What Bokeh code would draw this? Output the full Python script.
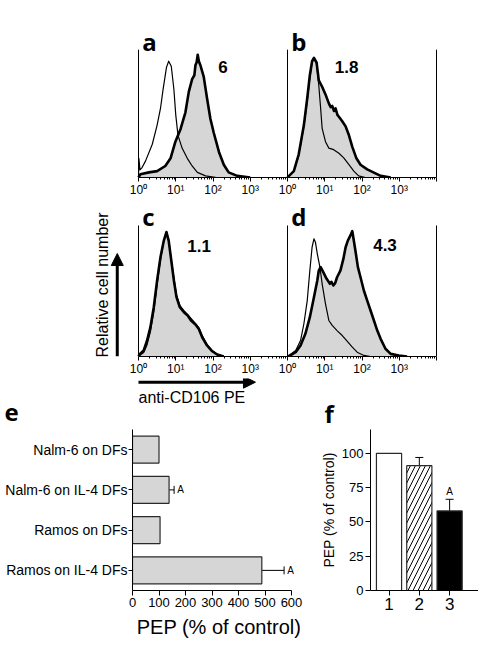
import math
from bokeh.plotting import figure
from bokeh.layouts import column, row
from bokeh.models import (Range1d, FixedTicker, Arrow, NormalHead,
                          Whisker, TeeHead, ColumnDataSource)
from bokeh.core.properties import value
from bokeh.embed import file_html
from bokeh.resources import INLINE

# ---------------- data ----------------
# histogram curves: x in decades (log10 fluorescence), y relative cell number (0..1)
a_open_x = [0.0, 0.01, 0.04, 0.1, 0.19, 0.37, 0.5, 0.59, 0.66, 0.75, 0.81, 0.88, 0.95, 1.0, 1.06, 1.17, 1.31, 1.44, 1.58, 1.8, 2.1]
a_open_y = [0.0, 0.15, 0.06, 0.08, 0.13, 0.26, 0.41, 0.54, 0.69, 0.86, 0.91, 0.87, 0.69, 0.49, 0.33, 0.23, 0.15, 0.09, 0.04, 0.013, 0.0]
a_fill_x = [0.0, 0.05, 0.28, 0.5, 0.72, 0.86, 0.99, 1.13, 1.26, 1.35, 1.44, 1.5, 1.53, 1.56, 1.59, 1.62, 1.66, 1.7, 1.75, 1.84, 1.93, 2.02, 2.16, 2.29, 2.42, 2.65, 3.0]
a_fill_y = [0.0, 0.025, 0.04, 0.05, 0.09, 0.15, 0.28, 0.38, 0.51, 0.67, 0.77, 0.8, 0.88, 0.9, 0.96, 0.91, 0.88, 0.84, 0.79, 0.62, 0.46, 0.35, 0.2, 0.1, 0.04, 0.013, 0.0]

b_open_x = [0.0, 0.04, 0.17, 0.30, 0.44, 0.53, 0.60, 0.66, 0.71, 0.78, 0.84, 0.89, 0.93, 1.02, 1.11, 1.24, 1.38, 1.51, 1.65, 1.78, 1.91, 2.09]
b_open_y = [0.0, 0.013, 0.05, 0.17, 0.40, 0.60, 0.78, 0.90, 0.93, 0.89, 0.72, 0.54, 0.385, 0.28, 0.23, 0.218, 0.19, 0.154, 0.10, 0.05, 0.013, 0.0]
b_fill_x = [0.0, 0.04, 0.17, 0.30, 0.44, 0.53, 0.60, 0.66, 0.71, 0.78, 0.84, 0.93, 1.02, 1.11, 1.16, 1.20, 1.25, 1.29, 1.34, 1.38, 1.47, 1.56, 1.65, 1.74, 1.85, 1.96, 2.14, 2.32, 2.50, 2.77]
b_fill_y = [0.0, 0.013, 0.05, 0.18, 0.41, 0.62, 0.80, 0.91, 0.935, 0.90, 0.76, 0.71, 0.65, 0.58, 0.55, 0.56, 0.52, 0.54, 0.49, 0.475, 0.44, 0.40, 0.33, 0.24, 0.15, 0.10, 0.064, 0.038, 0.013, 0.0]

c_open_x = [0.0, 0.04, 0.14, 0.23, 0.32, 0.41, 0.50, 0.59, 0.68, 0.75, 0.81, 0.88, 0.95, 1.02, 1.11, 1.22, 1.32, 1.41, 1.53, 1.62, 1.71, 1.84, 1.98, 2.11, 2.3]
c_open_y = [0.0, 0.01, 0.03, 0.09, 0.19, 0.34, 0.55, 0.74, 0.88, 0.95, 0.89, 0.74, 0.6, 0.47, 0.39, 0.35, 0.32, 0.29, 0.25, 0.22, 0.16, 0.09, 0.045, 0.018, 0.0]
c_fill_x = [0.0, 0.04, 0.14, 0.23, 0.32, 0.41, 0.50, 0.59, 0.68, 0.75, 0.81, 0.88, 0.95, 1.02, 1.11, 1.22, 1.32, 1.41, 1.53, 1.62, 1.71, 1.84, 1.98, 2.11, 2.29]
c_fill_y = [0.0, 0.02, 0.046, 0.122, 0.224, 0.376, 0.58, 0.758, 0.885, 0.95, 0.885, 0.733, 0.58, 0.453, 0.376, 0.338, 0.313, 0.275, 0.244, 0.21, 0.147, 0.084, 0.04, 0.015, 0.0]

d_open_x = [0.0, 0.04, 0.22, 0.35, 0.44, 0.53, 0.60, 0.66, 0.71, 0.75, 0.80, 0.87, 0.93, 1.02, 1.11, 1.20, 1.33, 1.47, 1.60, 1.74, 1.87, 2.05, 2.23]
d_open_y = [0.0, 0.008, 0.046, 0.122, 0.25, 0.427, 0.656, 0.834, 0.898, 0.873, 0.784, 0.682, 0.555, 0.402, 0.275, 0.237, 0.198, 0.16, 0.117, 0.071, 0.033, 0.008, 0.0]
d_fill_x = [0.0, 0.04, 0.22, 0.35, 0.48, 0.60, 0.71, 0.80, 0.84, 0.89, 0.96, 1.05, 1.14, 1.18, 1.23, 1.28, 1.33, 1.42, 1.50, 1.56, 1.62, 1.69, 1.74, 1.78, 1.83, 1.89, 1.96, 2.05, 2.14, 2.23, 2.32, 2.41, 2.50, 2.63, 2.77, 2.99, 3.21]
d_fill_y = [0.0, 0.003, 0.033, 0.084, 0.173, 0.30, 0.453, 0.58, 0.656, 0.682, 0.644, 0.593, 0.555, 0.57, 0.542, 0.56, 0.605, 0.656, 0.745, 0.834, 0.885, 0.924, 0.957, 0.885, 0.796, 0.682, 0.605, 0.504, 0.427, 0.351, 0.275, 0.198, 0.135, 0.059, 0.02, 0.008, 0.0]

panel_letters = ["a", "b", "c", "d", "e", "f"]
panel_ratios = ["6", "1.8", "1.1", "4.3"]
decade_labels = ["10\u2070", "10\u00b9", "10\u00b2", "10\u00b3"]

# panel e
e_categories = ["Nalm-6 on DFs", "Nalm-6 on IL-4 DFs", "Ramos on DFs", "Ramos on IL-4 DFs"]
e_values = [100, 138, 104, 488]
e_errors = [0, 19, 0, 84]
e_marks = ["", "A", "", "A"]
e_ticks = [0, 100, 200, 300, 400, 500, 600]

# panel f
f_categories = ["1", "2", "3"]
f_values = [100, 91, 58]
f_errors = [0, 6, 8.5]
f_marks = ["", "", "A"]
f_ticks = [0, 25, 50, 75, 100]

# ---------------- style ----------------
SANS = "Liberation Sans"
BOLD_LETTER = "Open Sans"
LETTER_SIZE = "24px"
FILL = "#d6d6d6"
DEC_PX = 37.25          # pixels per decade
LEFT_PX = 138           # frame left -> 10^0 of left panels
FULL_W = 478
X0 = -LEFT_PX / DEC_PX
X1 = (FULL_W - LEFT_PX) / DEC_PX


def style_common(p):
    p.grid.visible = False
    p.outline_line_color = None
    p.background_fill_color = "white"
    p.border_fill_color = "white"


def hist_row(height, frame_h, unit_px, bottom_border):
    p = figure(width=FULL_W, height=height,
               x_range=Range1d(X0, X1), y_range=Range1d(0, frame_h / unit_px),
               y_axis_location=None, output_backend="svg", toolbar_location=None,
               min_border_left=0, min_border_right=0, min_border_top=0,
               min_border_bottom=bottom_border)
    p.extra_x_ranges = {"b": Range1d(X0 - 4, X1 - 4)}
    style_common(p)
    ax = p.xaxis[0]
    ax.bounds = (0, 8)
    major = list(range(9))
    minor = [d + math.log10(k) for d in range(8) for k in range(2, 10)]
    ax.ticker = FixedTicker(ticks=major, minor_ticks=minor)
    overrides = {}
    for i in range(8):
        overrides[i] = decade_labels[i % 4]
    overrides[8] = ""
    ax.major_label_overrides = overrides
    ax.major_label_text_font = SANS
    ax.major_label_text_font_size = "12px"
    ax.major_label_text_color = "black"
    ax.major_label_standoff = 1
    ax.major_tick_out = 4
    ax.major_tick_in = 0
    ax.minor_tick_out = 2
    ax.minor_tick_in = 0
    ax.axis_line_color = "black"
    ax.major_tick_line_color = "black"
    ax.minor_tick_line_color = "black"
    return p


def draw_panel(p, rng, ox, oy, fx, fy, letter, letter_y, ratio, rx, ry, right_line):
    kw = {} if rng is None else {"x_range_name": rng}
    p.varea(x=fx, y1=0, y2=fy, fill_color=FILL, **kw)
    p.line(ox, oy, line_color="black", line_width=1.2, line_join="round", **kw)
    p.line(fx, fy, line_color="black", line_width=2.6, line_join="round", **kw)
    xs = [0, 4] if right_line else [0]
    p.segment(x0=xs, y0=[0] * len(xs), x1=xs, y1=[1] * len(xs),
              line_color="black", line_width=1, **kw)
    p.text(x=[0.1], y=[letter_y], text=[letter], text_font=value(BOLD_LETTER),
           text_font_style="bold", text_font_size=LETTER_SIZE,
           text_align="left", text_baseline="alphabetic", text_color="black", **kw)
    p.text(x=[rx], y=[ry], text=[ratio], text_font=value(SANS),
           text_font_style="bold", text_font_size="17px",
           text_align="left", text_baseline="alphabetic", text_color="black", **kw)


# row 1 (a, b): frame page y 0..180, 130 px per unit
h1 = hist_row(height=199, frame_h=180, unit_px=130, bottom_border=19)
draw_panel(h1, None, a_open_x, a_open_y, a_fill_x, a_fill_y, panel_letters[0], 1.063, panel_ratios[0], 2.14, 0.865, False)
draw_panel(h1, "b", b_open_x, b_open_y, b_fill_x, b_fill_y, panel_letters[1], 1.063, panel_ratios[1], 1.27, 0.865, True)

# row 2 (c, d): frame page y 199..356, 131 px per unit
U2 = 131
h2 = hist_row(height=179, frame_h=157, unit_px=U2, bottom_border=22)
draw_panel(h2, None, c_open_x, c_open_y, c_fill_x, c_fill_y, panel_letters[2], 1.067, panel_ratios[2], 1.31, 0.84, False)
draw_panel(h2, "b", d_open_x, d_open_y, d_fill_x, d_fill_y, panel_letters[3], 1.067, panel_ratios[3], 2.30, 0.85, True)

h2.text(x=[-0.97], y=[0.546], text=["Relative cell number"], angle=math.pi / 2,
        text_align="center", text_baseline="middle",
        text_font=value(SANS), text_font_size="16px", text_color="black")
h2.add_layout(Arrow(x_start=-0.57, y_start=0.0, x_end=-0.57, y_end=0.786,
                    line_width=3, line_color="black",
                    end=NormalHead(size=12, fill_color="black", line_color="black")))

# strip under row 2: x-axis arrow, its label and the letters of panels e and f
# (continues row 2's scales: page y 378..429)
h3 = figure(width=FULL_W, height=51,
            x_range=Range1d(X0, X1), y_range=Range1d(-(429 - 356) / U2, -(378 - 356) / U2),
            x_axis_location=None, y_axis_location=None,
            output_backend="svg", toolbar_location=None, min_border=0)
style_common(h3)
h3.add_layout(Arrow(x_start=0.0, y_start=-0.196, x_end=3.14, y_end=-0.196,
                    line_width=3, line_color="black",
                    end=NormalHead(size=12, fill_color="black", line_color="black")))
h3.text(x=[0.0], y=[-0.31], text=["anti-CD106 PE"], text_align="left", text_baseline="middle",
        text_font=value(SANS), text_font_size="16px", text_color="black")
h3.text(x=[-3.6, 4.99], y=[-0.4245, -0.435], text=panel_letters[4:6],
        text_font=value(BOLD_LETTER), text_font_style="bold", text_font_size=LETTER_SIZE,
        text_align="left", text_baseline="alphabetic", text_color="black")

# ---------------- panel e ----------------
E_PX = 0.265
E_FRAME_W = 173
pe = figure(width=132 + E_FRAME_W, height=221,
            x_range=Range1d(0, E_FRAME_W / E_PX), y_range=Range1d(3.5, -0.5),
            output_backend="svg", toolbar_location=None,
            min_border_left=132, min_border_right=0, min_border_top=0, min_border_bottom=60)
style_common(pe)
e_idx = list(range(len(e_categories)))
pe.hbar(y=e_idx, left=0, right=e_values, height=0.67,
        fill_color=FILL, line_color="#2a2a2a", line_width=1.2)
e_src = ColumnDataSource(dict(
    y=[i for i in e_idx if e_errors[i] > 0],
    lo=[e_values[i] for i in e_idx if e_errors[i] > 0],
    hi=[e_values[i] + e_errors[i] for i in e_idx if e_errors[i] > 0],
    mark=[e_marks[i] for i in e_idx if e_errors[i] > 0],
))
e_src.data["mx"] = [h + 12 for h in e_src.data["hi"]]
pe.add_layout(Whisker(source=e_src, base="y", lower="lo", upper="hi", dimension="width",
                      lower_head=None, line_color="black", line_width=1,
                      upper_head=TeeHead(size=8, line_color="black", line_width=1)))
pe.text(x="mx", y="y", text="mark", source=e_src, text_font=value(SANS),
        text_font_size="10px", text_align="left", text_baseline="middle", text_color="black")
xa = pe.xaxis[0]
xa.bounds = (0, 600)
xa.ticker = FixedTicker(ticks=e_ticks)
xa.axis_label = "PEP (% of control)"
xa.axis_label_text_font = SANS
xa.axis_label_text_font_style = "normal"
xa.axis_label_text_font_size = "20px"
xa.axis_label_text_color = "black"
xa.axis_label_standoff = 6
xa.major_label_text_font = SANS
xa.major_label_text_font_size = "13px"
xa.major_label_text_color = "black"
xa.major_label_standoff = 2
xa.major_tick_out = 5
xa.major_tick_in = 0
xa.minor_tick_out = 0
ya = pe.yaxis[0]
ya.ticker = FixedTicker(ticks=e_idx)
ya.major_label_overrides = {i: c for i, c in zip(e_idx, e_categories)}
ya.major_label_text_font = SANS
ya.major_label_text_font_size = "14px"
ya.major_label_text_color = "black"
ya.major_label_standoff = 1
ya.major_tick_out = 4
ya.major_tick_in = 0
ya.minor_tick_out = 0

# ---------------- panel f ----------------
F_PX = 30.3
F_UNIT = 1.38           # pixels per percent
pf = figure(width=173, height=221,
            x_range=Range1d(0.389, 0.389 + 108 / F_PX), y_range=Range1d(0, 162 / F_UNIT),
            output_backend="svg", toolbar_location=None,
            min_border_left=65, min_border_right=0, min_border_top=0, min_border_bottom=59)
style_common(pf)
f_x = [i + 1 for i in range(len(f_categories))]
f_src = ColumnDataSource(dict(
    x=f_x, top=f_values,
    fill=["white", "white", "black"],
    hatch=[" ", "/", " "],
))
pf.vbar(x="x", top="top", width=0.83, source=f_src, fill_color="fill",
        hatch_pattern="hatch", hatch_color="black", hatch_weight=1, hatch_scale=10,
        line_color="#2a2a2a", line_width=1.2)
f_err_src = ColumnDataSource(dict(
    x=[f_x[i] for i in range(3) if f_errors[i] > 0],
    lo=[f_values[i] for i in range(3) if f_errors[i] > 0],
    hi=[f_values[i] + f_errors[i] for i in range(3) if f_errors[i] > 0],
    mark=[f_marks[i] for i in range(3) if f_errors[i] > 0],
))
f_err_src.data["my"] = [h + 1.5 for h in f_err_src.data["hi"]]
pf.add_layout(Whisker(source=f_err_src, base="x", lower="lo", upper="hi", dimension="height",
                      lower_head=None, line_color="black", line_width=1,
                      upper_head=TeeHead(size=8, line_color="black", line_width=1)))
pf.text(x="x", y="my", text="mark", source=f_err_src, text_font=value(SANS),
        text_font_size="10px", text_align="center", text_baseline="bottom", text_color="black")
fx_ax = pf.xaxis[0]
fx_ax.ticker = FixedTicker(ticks=f_x)
fx_ax.major_label_overrides = {i: c for i, c in zip(f_x, f_categories)}
fx_ax.major_label_text_font = SANS
fx_ax.major_label_text_font_size = "17px"
fx_ax.major_label_text_color = "black"
fx_ax.major_label_standoff = 2
fx_ax.major_tick_out = 5
fx_ax.major_tick_in = 0
fx_ax.minor_tick_out = 0
fy_ax = pf.yaxis[0]
fy_ax.ticker = FixedTicker(ticks=f_ticks)
fy_ax.axis_label = "PEP (% of control)"
fy_ax.axis_label_text_font = SANS
fy_ax.axis_label_text_font_style = "normal"
fy_ax.axis_label_text_font_size = "14px"
fy_ax.axis_label_text_color = "black"
fy_ax.axis_label_standoff = 2
fy_ax.major_label_text_font = SANS
fy_ax.major_label_text_font_size = "13px"
fy_ax.major_label_text_color = "black"
fy_ax.major_label_standoff = 2
fy_ax.major_tick_out = 5
fy_ax.major_tick_in = 0
fy_ax.minor_tick_out = 0

layout = column(h1, h2, h3, row(pe, pf))
open("out.html", "w").write(file_html(layout, INLINE))
